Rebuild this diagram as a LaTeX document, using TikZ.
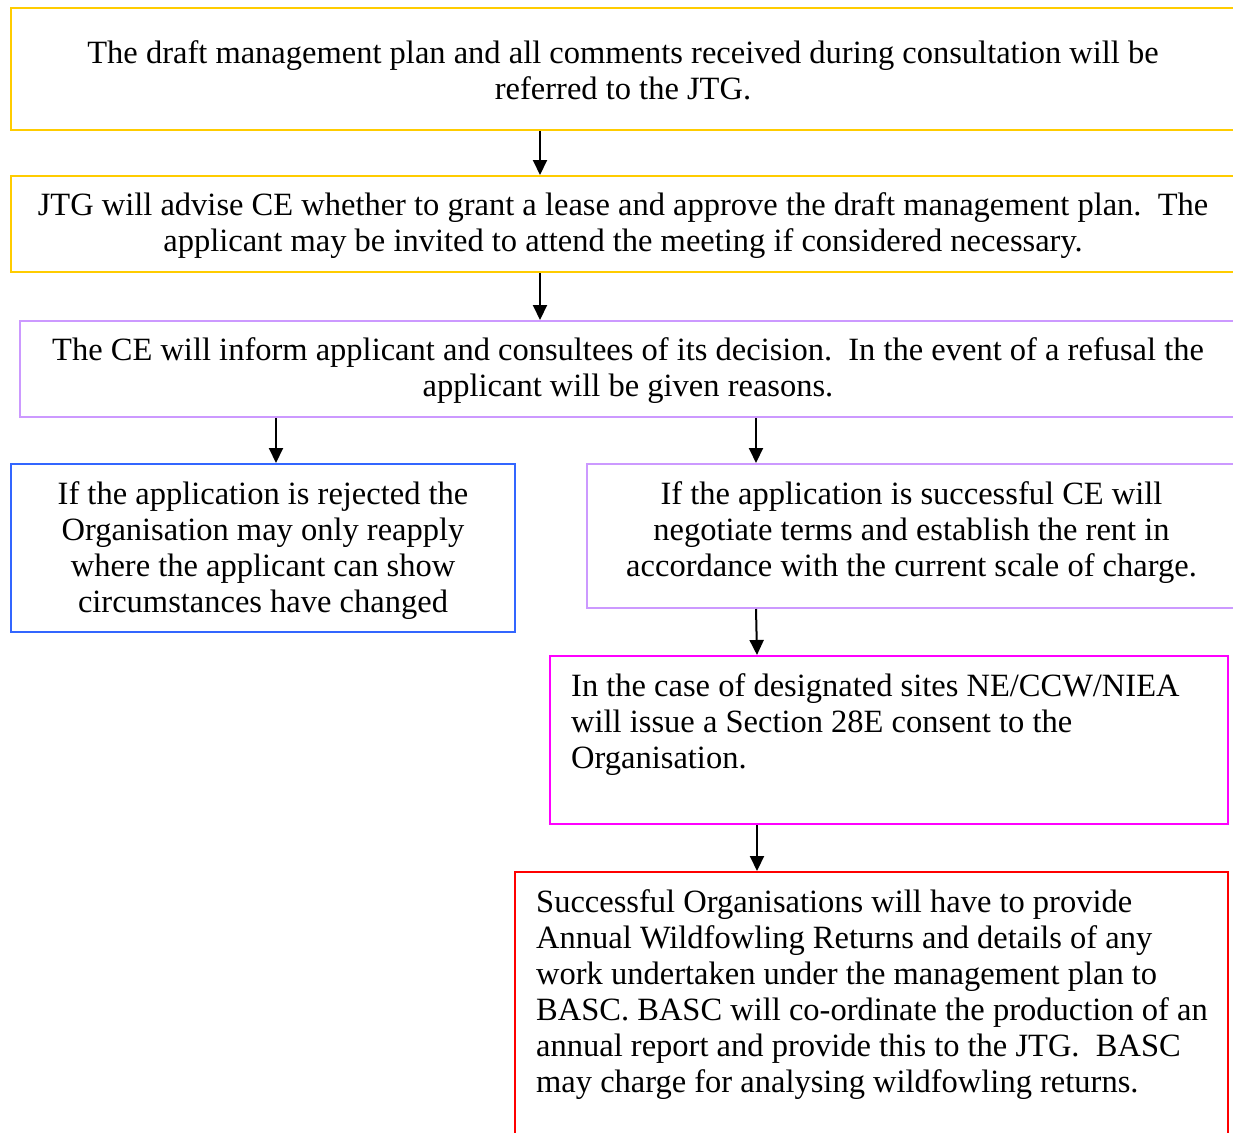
\documentclass[tikz,border=0pt]{standalone}
\usepackage{fontspec}
\setmainfont{Liberation Serif}
\usetikzlibrary{arrows.meta,fit}
\definecolor{gold}{HTML}{FFCC00}
\definecolor{lilac}{HTML}{CC99FF}
\definecolor{bluebox}{HTML}{3366FF}
\definecolor{magbox}{HTML}{FF00FF}
\definecolor{redbox}{HTML}{FF0000}
\begin{document}
\begin{tikzpicture}[x=1pt,y=-1pt,
  box/.style={draw=#1, line width=2pt, inner sep=0pt},
  txt/.style={font=\fontsize{32.5}{36}\selectfont, inner sep=0pt, align=center},
  ltxt/.style={font=\fontsize{32.5}{36}\selectfont, inner sep=0pt, align=left, anchor=north west},
  arr/.style={line width=2pt, -{Triangle[width=14pt,length=15pt]}}]
\useasboundingbox (0,0) rectangle (1233,1132);
\clip (0,0) rectangle (1233,1132);

% boxes
\node[box=gold,   fit={(11,8)(1235,130)}]    (b1) {};
\node[box=gold,   fit={(11,176)(1235,272)}]  (b2) {};
\node[box=lilac,  fit={(20,321)(1236,417)}]  (b3) {};
\node[box=bluebox,fit={(11,464)(515,632)}]   (b4) {};
\node[box=lilac,  fit={(587,464)(1236,608)}] (b5) {};
\node[box=magbox, fit={(550,656)(1228,824)}] (b6) {};
\node[box=redbox, fit={(515,872)(1228,1145)}] (b7) {};

% texts
\node[txt] (t1) at ([yshift=-1pt]b1.center) {The draft management plan and all comments received during consultation will be\\referred to the JTG.};
\node[txt] (t2) at ([yshift=-2pt]b2.center) {JTG will advise CE whether to grant a lease and approve the draft management plan.\ \ The\\applicant may be invited to attend the meeting if considered necessary.};
\node[txt] (t3) at ([yshift=-2pt]b3.center) {The CE will inform applicant and consultees of its decision.\ \ In the event of a refusal the\\applicant will be given reasons.};
\node[txt] (t4) at ([yshift=-3pt]b4.center) {If the application is rejected the\\Organisation may only reapply\\where the applicant can show\\circumstances have changed};
\node[txt] (t5) at ([yshift=3pt]b5.center) {If the application is successful CE will\\negotiate terms and establish the rent in\\accordance with the current scale of charge.};
\node[ltxt] (t6) at (571,673) {In the case of designated sites NE/CCW/NIEA\\will issue a Section 28E consent to the\\Organisation.};
\node[ltxt] (t7) at (536,889) {Successful Organisations will have to provide\\Annual Wildfowling Returns and details of any\\work undertaken under the management plan to\\BASC. BASC will co-ordinate the production of an\\annual report and provide this to the JTG.\ \ BASC\\may charge for analysing wildfowling returns.};

% connectors
\coordinate (xa) at (540,0);
\coordinate (xb) at (276,0);
\coordinate (xc) at (756,0);
\coordinate (xd) at (757,0);
\draw[arr] (xa |- b1.south) -- (xa |- b2.north);
\draw[arr] (xa |- b2.south) -- (xa |- b3.north);
\draw[arr] (xb |- b3.south) -- (xb |- b4.north);
\draw[arr] (xc |- b3.south) -- (xc |- b5.north);
\draw[arr] (xc |- b5.south) -- (xd |- b6.north);
\draw[arr] (xd |- b6.south) -- (xd |- b7.north);
\end{tikzpicture}
\end{document}
